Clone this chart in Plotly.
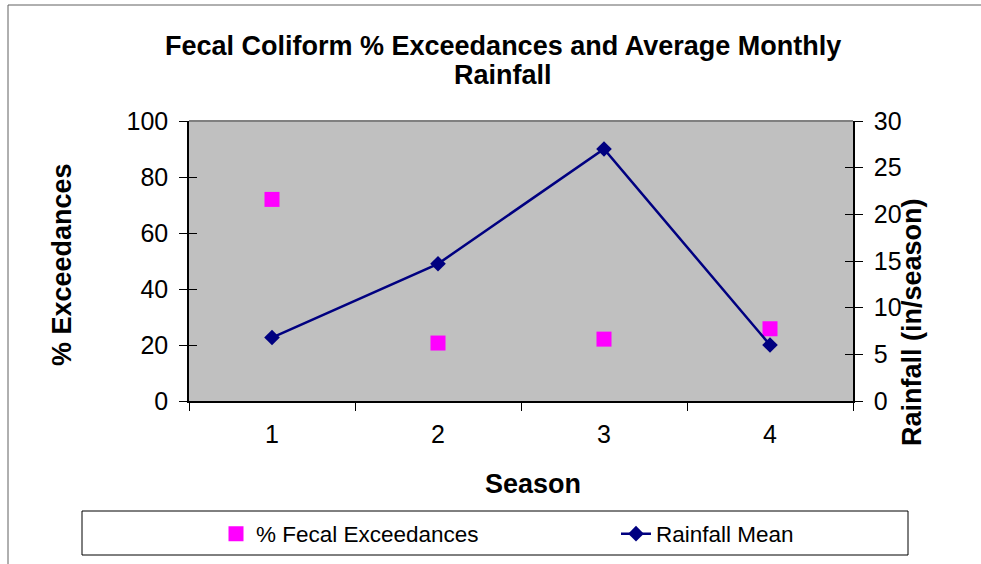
import plotly.graph_objects as go

# Season data
seasons = ["1", "2", "3", "4"]
fecal_exceedances = [72, 20.7, 22.1, 25.8]   # % of samples exceeding
rainfall_mean = [6.8, 14.7, 27.0, 6.0]       # inches per season

W, H = 981, 564
ML, MR, MT, MB = 189, 128, 121, 163
PW, PH = W - ML - MR, H - MT - MB

FONT = "Liberation Sans, Arial, sans-serif"


def px_x(p):
    return (p - ML) / PW


def px_y(p):
    return (H - MB - p) / PH


fig = go.Figure()

fig.add_trace(go.Scatter(
    x=seasons, y=fecal_exceedances, name="% Fecal Exceedances",
    mode="markers",
    marker=dict(symbol="square", size=15, color="#FF00FF"),
    xaxis="x", yaxis="y", legend="legend",
))
fig.add_trace(go.Scatter(
    x=seasons, y=rainfall_mean, name="Rainfall Mean",
    mode="lines+markers",
    line=dict(color="#000080", width=2.5),
    marker=dict(symbol="diamond", size=12, color="#000080"),
    xaxis="x", yaxis="y2", legend="legend2",
))
# empty traces that carry the inward half of the crossing tick marks
fig.add_trace(go.Scatter(x=[None], y=[None], yaxis="y3", showlegend=False, hoverinfo="skip"))
fig.add_trace(go.Scatter(x=[None], y=[None], yaxis="y4", showlegend=False, hoverinfo="skip"))

tickfont = dict(family=FONT, size=25, color="black")
legend_font = dict(family=FONT, size=22.5, color="black")

fig.update_layout(
    width=W, height=H,
    margin=dict(l=ML, r=MR, t=MT, b=MB, autoexpand=False),
    paper_bgcolor="white",
    plot_bgcolor="#C0C0C0",
    showlegend=True,
    legend=dict(
        orientation="h", x=px_x(216), xanchor="left",
        y=px_y(534), yanchor="middle",
        bgcolor="rgba(0,0,0,0)", font=legend_font,
    ),
    legend2=dict(
        orientation="h", x=px_x(616), xanchor="left",
        y=px_y(534), yanchor="middle",
        bgcolor="rgba(0,0,0,0)", font=legend_font,
    ),
    xaxis=dict(
        type="category", range=[-0.5, 3.5],
        showline=True, linecolor="black", linewidth=1.5,
        ticks="outside", ticklen=8, tickcolor="black", tickson="boundaries",
        tickfont=tickfont, showgrid=False, zeroline=False,
        ticklabelstandoff=10,
    ),
    yaxis=dict(
        range=[0, 100], dtick=20,
        showline=True, linecolor="black", linewidth=1.5,
        ticks="outside", ticklen=8, tickcolor="black",
        tickfont=tickfont, showgrid=False, zeroline=False,
        ticklabelstandoff=6,
    ),
    yaxis2=dict(
        range=[0, 30], dtick=5, overlaying="y", side="right",
        showline=True, linecolor="black", linewidth=1.5,
        ticks="outside", ticklen=8, tickcolor="black",
        tickfont=tickfont, showgrid=False, zeroline=False,
        ticklabelstandoff=6,
    ),
    yaxis3=dict(
        range=[0, 100], dtick=20, overlaying="y", side="left",
        ticks="inside", ticklen=8, tickcolor="black",
        showticklabels=False, showgrid=False, zeroline=False, showline=False,
    ),
    yaxis4=dict(
        range=[0, 30], dtick=5, overlaying="y", side="right",
        ticks="inside", ticklen=8, tickcolor="black",
        showticklabels=False, showgrid=False, zeroline=False, showline=False,
    ),
)

bold = dict(family=FONT, size=27, color="black")

annotations = [
    dict(text="<b>Fecal Coliform % Exceedances and Average Monthly</b>",
         x=px_x(503), y=px_y(46), font=bold),
    dict(text="<b>Rainfall</b>", x=px_x(503), y=px_y(75), font=bold),
    dict(text="<b>Season</b>", x=px_x(533), y=px_y(484), font=bold),
    dict(text="<b>% Exceedances</b>", x=px_x(62), y=px_y(265), font=bold, textangle=-90),
    dict(text="<b>Rainfall (in/season)</b>", x=px_x(912), y=px_y(322), font=bold, textangle=-90),
]
for a in annotations:
    a.update(xref="paper", yref="paper", xanchor="center", yanchor="middle",
             showarrow=False)
fig.update_layout(annotations=annotations)

shapes = [
    # grey upper edge of the plot area
    dict(type="line", xref="paper", yref="paper", x0=0, x1=1, y0=1, y1=1,
         line=dict(color="#808080", width=2)),
    # legend frame
    dict(type="rect", xref="paper", yref="paper",
         x0=px_x(82), x1=px_x(908), y0=px_y(555), y1=px_y(511),
         line=dict(color="black", width=1), fillcolor="rgba(0,0,0,0)", layer="below"),
    # chart-area frame (top and left edges)
    dict(type="line", xref="paper", yref="paper",
         x0=px_x(8), x1=px_x(W + 2), y0=px_y(5), y1=px_y(5),
         line=dict(color="#606060", width=1)),
    dict(type="line", xref="paper", yref="paper",
         x0=px_x(8), x1=px_x(8), y0=px_y(5), y1=px_y(H + 2),
         line=dict(color="#606060", width=1)),
]
fig.update_layout(shapes=shapes)

fig.write_html("out.html")
